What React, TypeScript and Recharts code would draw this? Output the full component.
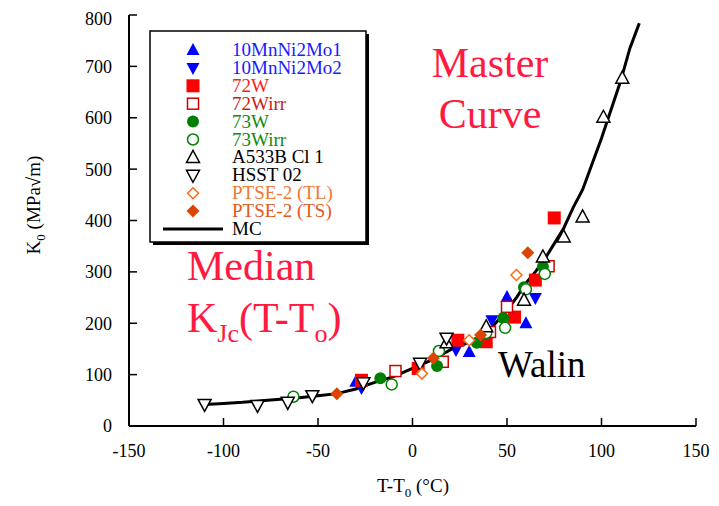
import React from "react";
import { ScatterChart, Scatter, XAxis, YAxis } from "recharts";

const serif = "Liberation Serif";
const serifStyle = { fontFamily: serif };

// median curve
const mcCurve = [
  { x: -110, y: 42 }, { x: -100, y: 44 }, { x: -90, y: 46 }, { x: -80, y: 49 },
  { x: -70, y: 52 }, { x: -60, y: 55 }, { x: -50, y: 59 }, { x: -40, y: 63 },
  { x: -30, y: 72 }, { x: -20, y: 85 }, { x: -10, y: 96 }, { x: 0, y: 112 },
  { x: 10, y: 128 }, { x: 20, y: 148 }, { x: 30, y: 163 }, { x: 40, y: 184 },
  { x: 50, y: 225 }, { x: 55, y: 250 }, { x: 60, y: 278 }, { x: 65, y: 300 },
  { x: 70, y: 325 }, { x: 75, y: 355 }, { x: 80, y: 385 }, { x: 85, y: 425 },
  { x: 90, y: 460 }, { x: 95, y: 510 }, { x: 100, y: 560 }, { x: 105, y: 615 },
  { x: 110, y: 670 }, { x: 115, y: 735 }, { x: 120, y: 784 },
];

const mnNiMo1 = [{ x: -30, y: 86 }, { x: 30, y: 144 }, { x: 50, y: 251 }, { x: 60, y: 200 }];
const mnNiMo2 = [{ x: -27, y: 74 }, { x: 23, y: 148 }, { x: 42, y: 206 }, { x: 65, y: 249 }];
const w72 = [
  { x: -27, y: 89 }, { x: 3, y: 112 }, { x: 24, y: 167 }, { x: 39, y: 164 },
  { x: 54, y: 212 }, { x: 65, y: 284 }, { x: 75, y: 405 },
];
const w72irr = [{ x: -9, y: 107 }, { x: 16, y: 125 }, { x: 41, y: 183 }, { x: 50, y: 232 }, { x: 72, y: 311 }];
const w73 = [
  { x: -17, y: 93 }, { x: 13, y: 117 }, { x: 34, y: 162 }, { x: 48, y: 210 },
  { x: 59, y: 270 }, { x: 69, y: 310 },
];
const w73irr = [
  { x: -63, y: 57 }, { x: -11, y: 81 }, { x: 14, y: 146 }, { x: 39, y: 181 },
  { x: 49, y: 191 }, { x: 60, y: 266 }, { x: 70, y: 296 },
];
const a533b = [
  { x: 18, y: 162 }, { x: 39, y: 193 }, { x: 59, y: 245 }, { x: 69, y: 329 },
  { x: 80, y: 368 }, { x: 90, y: 407 }, { x: 101, y: 601 }, { x: 111, y: 677 },
];
const hsst02 = [
  { x: -110, y: 42 }, { x: -82, y: 40 }, { x: -66, y: 46 }, { x: -53, y: 59 },
  { x: -26, y: 84 }, { x: 4, y: 122 }, { x: 18, y: 171 },
];
const ptseTL = [{ x: 5, y: 102 }, { x: 30, y: 167 }, { x: 55, y: 294 }];
const ptseTS = [{ x: -40, y: 63 }, { x: 11, y: 132 }, { x: 36, y: 177 }, { x: 61, y: 337 }];

const xTicks = [-150, -100, -50, 0, 50, 100, 150];
const yTicks = [0, 100, 200, 300, 400, 500, 600, 700, 800];

type Kind = "up" | "down" | "square" | "circle" | "diamond";

function marker(kind: Kind, color: string, filled: boolean, cx: number, cy: number) {
  const fill = filled ? color : "#fff";
  const sw = filled ? 0 : 1.5;
  if (kind === "up") {
    return <polygon points={`${cx},${cy - 7} ${cx - 6.5},${cy + 5} ${cx + 6.5},${cy + 5}`} fill={fill} stroke={color} strokeWidth={sw} />;
  }
  if (kind === "down") {
    return <polygon points={`${cx},${cy + 7} ${cx - 6.5},${cy - 5} ${cx + 6.5},${cy - 5}`} fill={fill} stroke={color} strokeWidth={sw} />;
  }
  if (kind === "square") {
    const s = filled ? 6.5 : 5.5;
    return <rect x={cx - s} y={cy - s} width={2 * s} height={2 * s} fill={fill} stroke={color} strokeWidth={sw} />;
  }
  if (kind === "circle") {
    return <circle cx={cx} cy={cy} r={filled ? 6 : 5.5} fill={fill} stroke={color} strokeWidth={sw} />;
  }
  const d = filled ? 6.5 : 5.5;
  return <polygon points={`${cx},${cy - d} ${cx + d},${cy} ${cx},${cy + d} ${cx - d},${cy}`} fill={fill} stroke={color} strokeWidth={sw} />;
}

const series = [
  { name: "10MnNi2Mo1", data: mnNiMo1, kind: "up" as Kind, color: "#0000ff", filled: true, text: "#1a1aff" },
  { name: "10MnNi2Mo2", data: mnNiMo2, kind: "down" as Kind, color: "#0000ff", filled: true, text: "#1a1aff" },
  { name: "72W", data: w72, kind: "square" as Kind, color: "#ff0000", filled: true, text: "#ff1a1a" },
  { name: "72Wirr", data: w72irr, kind: "square" as Kind, color: "#cc0000", filled: false, text: "#cc1a1a" },
  { name: "73W", data: w73, kind: "circle" as Kind, color: "#008000", filled: true, text: "#108a10" },
  { name: "73Wirr", data: w73irr, kind: "circle" as Kind, color: "#008000", filled: false, text: "#108a10" },
  { name: "A533B Cl 1", data: a533b, kind: "up" as Kind, color: "#000000", filled: false, text: "#000" },
  { name: "HSST 02", data: hsst02, kind: "down" as Kind, color: "#000000", filled: false, text: "#000" },
  { name: "PTSE-2 (TL)", data: ptseTL, kind: "diamond" as Kind, color: "#ff6a10", filled: false, text: "#f07830" },
  { name: "PTSE-2 (TS)", data: ptseTS, kind: "diamond" as Kind, color: "#dd4400", filled: true, text: "#e05a20" },
];

const red = "#ff1a40";

export default function App() {
  return (
    <div style={{ position: "relative", width: 703, height: 498 }}>
      <ScatterChart width={703} height={490} margin={{ top: 7, right: 15, bottom: 32, left: 0 }}>
        <XAxis
          type="number"
          dataKey="x"
          domain={[-150, 150]}
          ticks={xTicks}
          allowDataOverflow
          height={40}
          tickSize={-8}
          tickMargin={26}
          axisLine={{ stroke: "#000", strokeWidth: 2 }}
          tickLine={{ stroke: "#000", strokeWidth: 1.5 }}
          tick={{ fill: "#000", fontSize: 18, style: serifStyle }}
        />
        <XAxis
          xAxisId="top"
          orientation="top"
          type="number"
          domain={[-150, 150]}
          ticks={xTicks}
          height={0}
          tickSize={-8}
          tick={false}
          axisLine={{ stroke: "#000", strokeWidth: 2 }}
          tickLine={{ stroke: "#000", strokeWidth: 1.5 }}
        />
        <YAxis
          type="number"
          dataKey="y"
          domain={[0, 800]}
          ticks={yTicks}
          allowDataOverflow
          width={121}
          tickSize={-8}
          tickMargin={25}
          axisLine={{ stroke: "#000", strokeWidth: 2 }}
          tickLine={{ stroke: "#000", strokeWidth: 1.5 }}
          tick={{ fill: "#000", fontSize: 18, style: serifStyle }}
        />
        <YAxis
          yAxisId="right"
          orientation="right"
          type="number"
          domain={[0, 800]}
          ticks={yTicks}
          width={0}
          tickSize={-8}
          tick={false}
          axisLine={{ stroke: "#000", strokeWidth: 2 }}
          tickLine={{ stroke: "#000", strokeWidth: 1.5 }}
        />
        <Scatter
          name="MC"
          data={mcCurve}
          line={{ stroke: "#000", strokeWidth: 3 }}
          shape={() => <g />}
          isAnimationActive={false}
        />
        {series.map((s) => (
          <Scatter
            key={s.name}
            name={s.name}
            data={s.data}
            isAnimationActive={false}
            shape={(p: any) => marker(s.kind, s.color, s.filled, p.cx, p.cy)}
          />
        ))}
      </ScatterChart>

      <svg
        width={703}
        height={498}
        style={{ position: "absolute", left: 0, top: 0, pointerEvents: "none" }}
      >
        {/* legend box */}
        <rect x={145} y={26} width={216} height={211} fill="#000" />
        <rect x={142} y={23} width={216} height={211} fill="#fff" stroke="#000" strokeWidth={1.5} />
        {series.map((s, i) => {
          const cy = 42 + 17.9 * i;
          return (
            <g key={s.name}>
              {marker(s.kind, s.color, s.filled, 185, cy)}
              <text x={224} y={cy + 6} fontSize={19} fill={s.text} style={serifStyle}>
                {s.name}
              </text>
            </g>
          );
        })}
        <line x1={155} x2={215} y1={221} y2={221} stroke="#000" strokeWidth={3} />
        <text x={224} y={227} fontSize={19} fill="#000" style={serifStyle}>MC</text>

        {/* annotations */}
        <text x={482} y={69} fontSize={42} fill={red} textAnchor="middle" style={serifStyle}>Master</text>
        <text x={482} y={120} fontSize={42} fill={red} textAnchor="middle" style={serifStyle}>Curve</text>
        <text x={179} y={272} fontSize={42} fill={red} style={serifStyle}>Median</text>
        <text x={179} y={324} fontSize={42} fill={red} style={serifStyle}>
          K<tspan fontSize={26} dy={10}>Jc</tspan>
          <tspan dy={-10}>(T-T</tspan>
          <tspan fontSize={26} dy={10}>o</tspan>
          <tspan dy={-10}>)</tspan>
        </text>
        <text x={490} y={369} fontSize={37} fill="#000" style={serifStyle}>Walin</text>

        {/* axis titles */}
        <text x={405} y={484} fontSize={19} fill="#000" textAnchor="middle" style={serifStyle}>
          T-T<tspan fontSize={13} dy={5}>0</tspan>
          <tspan dy={-5}> (°C)</tspan>
        </text>
        <text
          x={0}
          y={0}
          fontSize={19}
          fill="#000"
          textAnchor="middle"
          style={serifStyle}
          transform="translate(32 197) rotate(-90)"
        >
          K<tspan fontSize={13} dy={5}>0</tspan>
          <tspan dy={-5}> (MPa√m)</tspan>
        </text>
      </svg>
    </div>
  );
}
